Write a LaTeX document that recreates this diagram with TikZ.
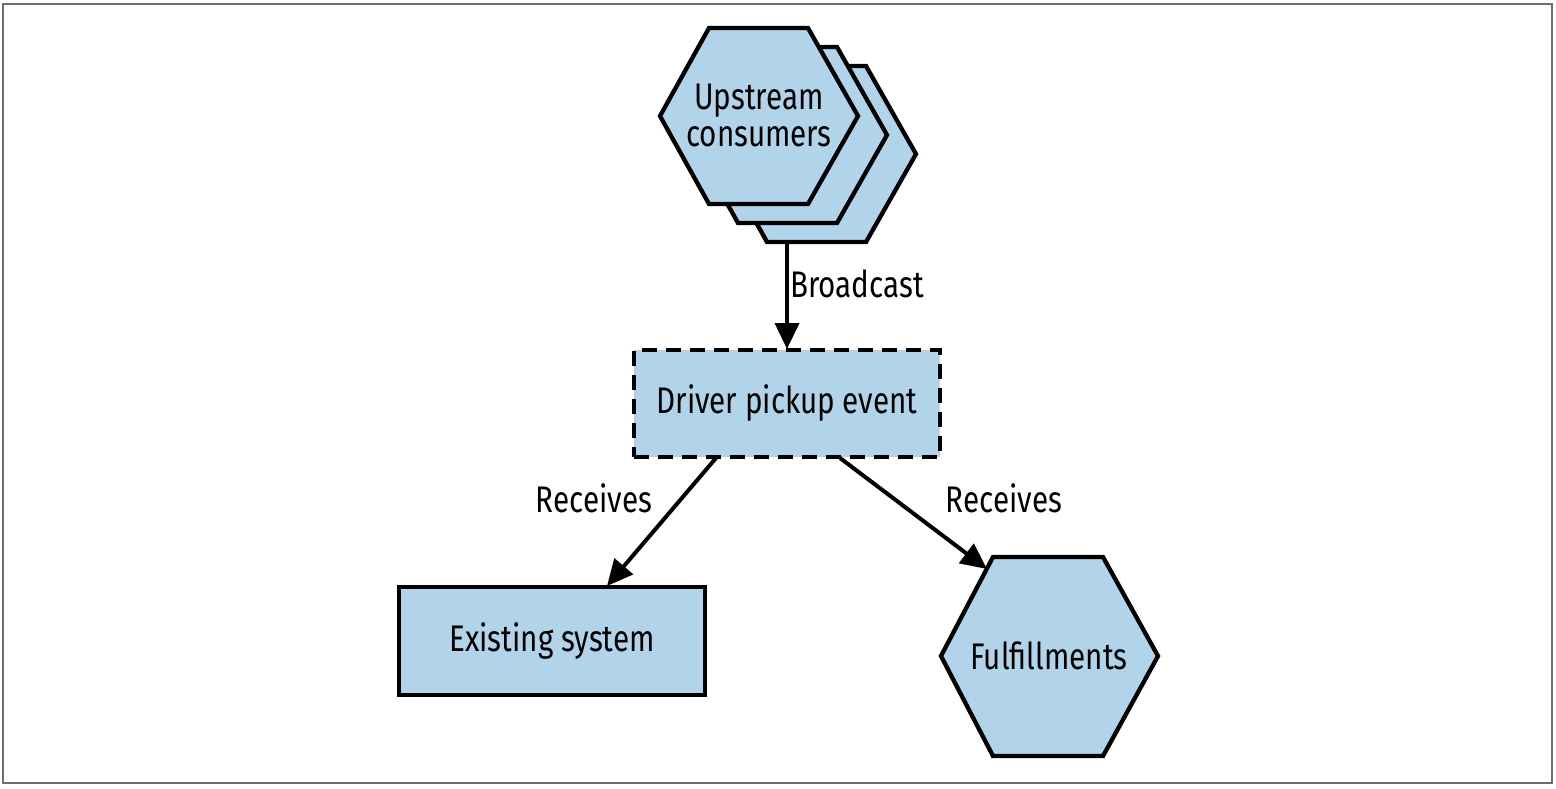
\documentclass[tikz,border=0pt]{standalone}
\usepackage{fontspec}
\setmainfont[FakeStretch=0.8]{Fira Sans}
\usetikzlibrary{arrows.meta,calc}
\definecolor{boxblue}{RGB}{178,212,234}
\definecolor{framegray}{RGB}{110,110,110}
\tikzset{
  shapebox/.style={draw=black,fill=boxblue,line width=4.3pt,line join=miter},
  dashbox/.style={shapebox,dash pattern=on 15pt off 9pt,inner sep=0pt},
  solidbox/.style={shapebox,inner sep=0pt},
  txt/.style={font=\fontsize{37}{37}\selectfont,inner sep=0pt,align=center},
  conn/.style={line width=4pt,-{Triangle[length=26pt,width=24pt]}},
}
\begin{document}
\begin{tikzpicture}[x=1pt,y=-1pt]
\useasboundingbox (0,0) rectangle (1556,788);
\draw[framegray,line width=2pt] (3,4) rectangle (1552,783);
% stacked hexagons (upstream consumers)
\foreach \dx/\dy in {58/38,29/19,0/0}{
  \draw[shapebox] ($(660,116)+(\dx,\dy)$) -- ($(709,28)+(\dx,\dy)$) -- ($(808,28)+(\dx,\dy)$) -- ($(858,116)+(\dx,\dy)$) -- ($(808,204)+(\dx,\dy)$) -- ($(709,204)+(\dx,\dy)$) -- cycle;
}
\node[txt] (up) at (759,115) {Upstream\\consumers};
\coordinate (upbot) at (787,242);
% driver pickup event
\node[dashbox,txt,minimum width=306pt,minimum height=107pt] (drv) at (787,403.5) {Driver pickup event};
% existing system
\node[solidbox,txt,minimum width=306pt,minimum height=108pt] (ex) at (552,641) {Existing system};
% fulfillments hexagon
\draw[shapebox] (941,656) -- (993,557) -- (1103,557) -- (1158,656) -- (1103,756) -- (993,756) -- cycle;
\node[txt] (ful) at (1049,656) {Fulfillments};
\coordinate (fultl) at (987,569);
% connectors
\coordinate (drvtop) at (787,349);
\draw[conn] (upbot) -- (drvtop);
\node[txt,anchor=west] (bc) at (790,284) {Broadcast};
\coordinate (drvbl) at (716,458);
\coordinate (extop) at (607,586);
\draw[conn] (drvbl) -- (extop);
\node[txt] (rl) at (594,498) {Receives};
\coordinate (drvbr) at (840,458);
\draw[conn] (drvbr) -- (fultl);
\node[txt] (rr) at (1004,498) {Receives};
\end{tikzpicture}
\end{document}
